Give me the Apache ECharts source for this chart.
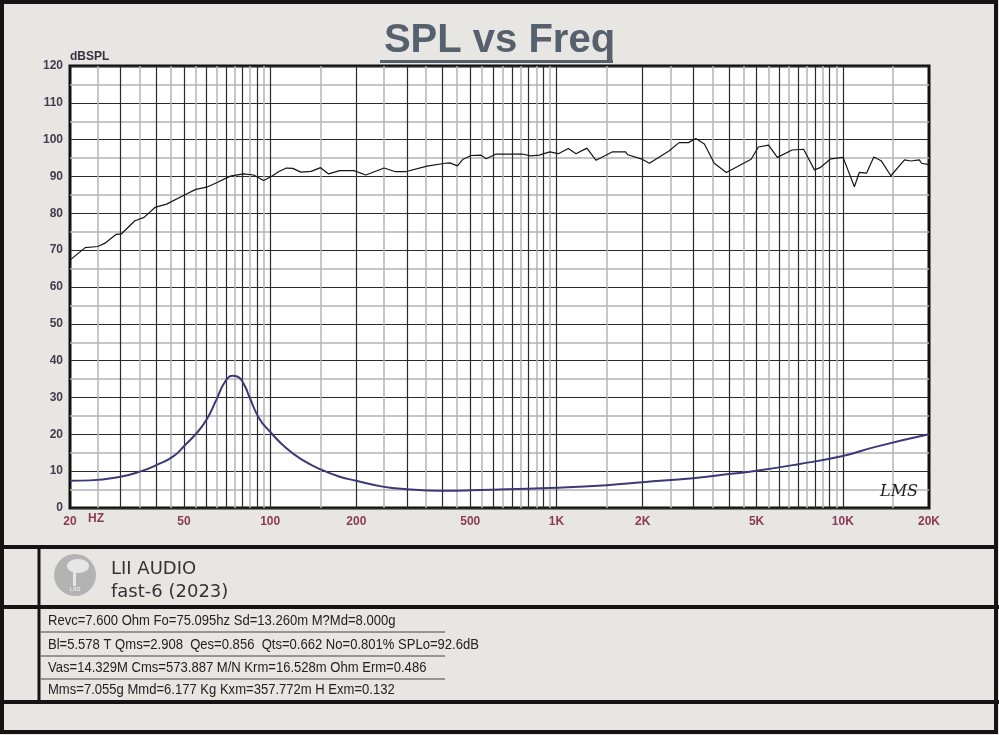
<!DOCTYPE html>
<html>
<head>
<meta charset="utf-8">
<script src="https://cdn.jsdelivr.net/npm/echarts@6/dist/echarts.min.js"></script>
<style>
html,body{margin:0;padding:0;background:#e8e6e3;}
#c{width:999px;height:735px;}
</style>
</head>
<body>
<div id="c"></div>
<script>
// ---- data ----
const splFreq = [20,22.6,25,26.5,29,30.2,33.7,36.3,39.6,43.5,50.2,55,60,65,72.6,80.6,87.6,94.9,101,107,114,120,128,139,150,160,175,196,216,250,274,297,353,409,424,451,472,503,545,568,615,760,812,870,948,1015,1100,1170,1277,1375,1570,1743,1776,1976,2112,2470,2680,2890,3066,3285,3557,3920,4785,5072,5504,5906,6651,7295,7960,8325,9085,10020,10975,11420,12100,12830,13610,14720,16420,17300,18500,18840,20000];
const splDb = [67.3,70.7,71.0,71.9,74.3,74.4,78.0,78.9,81.6,82.5,85.0,86.5,87.1,88.3,90.1,90.7,90.4,88.9,90.0,91.3,92.3,92.2,91.2,91.4,92.4,90.7,91.6,91.6,90.4,92.3,91.3,91.3,92.8,93.6,93.7,92.9,94.7,95.7,95.8,94.8,96.1,96.1,95.6,95.8,96.7,96.2,97.6,96.2,97.7,94.4,96.7,96.7,95.9,94.8,93.6,96.9,99.2,99.2,100.3,98.8,93.6,91.1,94.7,98.0,98.5,95.2,97.2,97.4,91.8,92.4,94.8,95.2,87.2,91.1,90.9,95.3,94.3,90.2,94.5,94.2,94.5,93.6,93.2];

const impFreq = [20,23.5,30,35.5,40.2,45.9,50.2,55.3,60,65,69.5,74.2,78,81.6,84.6,91.6,100,114,130,150,175,200,247,300,394,500,670,1000,1500,2000,3000,4000,5000,7000,10000,13000,20000];
const impOhm = [7.4,7.5,8.5,10.0,11.7,14.0,16.9,20.3,24.0,29.5,34.2,35.9,35.4,33.1,30.2,24.3,20.7,16.2,13.0,10.5,8.5,7.4,5.8,5.1,4.7,4.8,5.1,5.5,6.2,7.0,8.1,9.2,10.1,11.9,14.1,16.6,20.0];

const xTickValues = [20,50,100,200,500,1000,2000,5000,10000,20000];
const xTickLabels = ['20','50','100','200','500','1K','2K','5K','10K','20K'];
const majorGridFreqs = [30,40,50,60,70,80,90,100,200,300,400,500,600,700,800,900,1000,2000,3000,4000,5000,6000,7000,8000,9000,10000];
const minorGridFreqs = [25,35,45,55,65,75,85,95,150,250,350,450,550,650,750,850,950,1500,2500,3500,4500,5500,6500,7500,8500,9500,15000];

const titleText = 'SPL vs Freq';
const yAxisName = 'dBSPL';
const brandLines = ['LII AUDIO','fast-6 (2023)'];
const paramLines = [
  'Revc=7.600 Ohm Fo=75.095hz Sd=13.260m M?Md=8.000g',
  'Bl=5.578 T Qms=2.908  Qes=0.856  Qts=0.662 No=0.801% SPLo=92.6dB',
  'Vas=14.329M Cms=573.887 M/N Krm=16.528m Ohm Erm=0.486',
  'Mms=7.055g Mmd=6.177 Kg Kxm=357.772m H Exm=0.132'
];

// ---- build ----
const zip = (a,b) => a.map((v,i)=>[v,b[i]]);
const gridLines = [];
majorGridFreqs.forEach(f => gridLines.push({xAxis:f, lineStyle:{color:'#2a2a2a', width:1.2, type:'solid'}}));
minorGridFreqs.forEach(f => gridLines.push({xAxis:f, lineStyle:{color:'#b4b4b4', width:1.5, type:'solid'}}));

const FONT = '"Liberation Sans", Arial, sans-serif';
const chart = echarts.init(document.getElementById('c'), null, {renderer:'canvas'});

const graphics = [
  // outer frame
  {type:'rect', shape:{x:2,y:2,width:994,height:730}, style:{fill:'none', stroke:'#141414', lineWidth:4}, z:100},
  {type:'line', shape:{x1:0,y1:547,x2:994,y2:547}, style:{stroke:'#141414', lineWidth:4}, z:100},
  {type:'line', shape:{x1:0,y1:607,x2:999,y2:607}, style:{stroke:'#141414', lineWidth:4}, z:100},
  {type:'line', shape:{x1:0,y1:702,x2:999,y2:702}, style:{stroke:'#141414', lineWidth:4}, z:100},
  {type:'line', shape:{x1:39,y1:547,x2:39,y2:702}, style:{stroke:'#141414', lineWidth:3}, z:100},
  // title underline
  {type:'rect', shape:{x:380,y:60,width:233,height:3}, style:{fill:'#56616d'}, z:100},
  // axis name
  {type:'text', style:{x:70,y:57,text:yAxisName, font:'bold 12px '+FONT, fill:'#33333f', textVerticalAlign:'middle'}, z:100},
  {type:'text', style:{x:88,y:519,text:'HZ', font:'bold 12px '+FONT, fill:'#8b3a55', textVerticalAlign:'middle'}, z:100},
  // LMS
  {type:'text', style:{x:880,y:492,text:'LMS', font:'italic 16px "DejaVu Serif", serif', fill:'#222', textVerticalAlign:'middle'}, z:100},
  // logo
  {type:'circle', shape:{cx:75,cy:575,r:21}, style:{fill:'#b3b3b3'}, z:100},
  {type:'ellipse', shape:{cx:78,cy:566,rx:11,ry:7}, style:{fill:'#e6e6e6'}, z:101},
  {type:'rect', shape:{x:73,y:570,width:3,height:16}, style:{fill:'#e6e6e6'}, z:101},
  {type:'text', style:{x:75,y:589,text:'LIIS', font:'bold 6px '+FONT, fill:'#e6e6e6', textAlign:'center', textVerticalAlign:'middle'}, z:101},
  // brand text
  {type:'text', style:{x:111,y:569,text:brandLines[0], font:'18px "DejaVu Sans", sans-serif', fill:'#333', textVerticalAlign:'middle'}, z:100},
  {type:'text', style:{x:111,y:592,text:brandLines[1], font:'18px "DejaVu Sans", sans-serif', fill:'#333', textVerticalAlign:'middle'}, z:100}
];
const paramY = [621,645,668,690];
paramLines.forEach((t,i)=>{
  graphics.push({type:'text', x:48, y:paramY[i], scaleX:0.9, style:{x:0,y:0,text:t, font:'14.5px '+FONT, fill:'#222', textVerticalAlign:'middle'}, z:100});
  if (i<3) graphics.push({type:'line', shape:{x1:40,y1:paramY[i]+11,x2:445,y2:paramY[i]+11}, style:{stroke:'#7a7a7a', lineWidth:1.5}, z:100});
});

chart.setOption({
  animation:false,
  backgroundColor:'#e8e6e3',
  title:{text:titleText, left:'center', top:16, textStyle:{fontFamily:FONT, fontSize:40, fontWeight:'bold', color:'#56616d'}},
  grid:{left:70, right:70, top:66, bottom:227, show:true, backgroundColor:'#ffffff', borderColor:'#111', borderWidth:3, z:0},
  xAxis:{
    type:'log', logBase:10, min:20, max:20000,
    axisLine:{show:false}, axisTick:{show:false}, splitLine:{show:false}, minorSplitLine:{show:false},
    axisLabel:{customValues:xTickValues, margin:8, fontFamily:FONT, fontSize:12, fontWeight:'bold', color:'#8b3a55',
      formatter:(v)=>{ const i = xTickValues.findIndex(t=>Math.abs(t-v)/t<1e-6); return i>=0?xTickLabels[i]:''; }}
  },
  yAxis:{
    type:'value', min:0, max:120, interval:10,
    axisLine:{show:false}, axisTick:{show:false},
    axisLabel:{margin:7, fontFamily:FONT, fontSize:12, fontWeight:'bold', color:'#3e3e4c'},
    splitLine:{show:true, lineStyle:{color:'#2a2a2a', width:1.2}},
    minorTick:{show:false, splitNumber:2},
    minorSplitLine:{show:true, lineStyle:{color:'#b4b4b4', width:1.5}}
  },
  graphic:graphics,
  series:[
    {type:'line', data:[[20,0]], showSymbol:false, symbol:'none', lineStyle:{opacity:0}, silent:true, z:1,
      markLine:{silent:true, symbol:['none','none'], label:{show:false}, data:gridLines, animation:false}},
    {name:'SPL', type:'line', data:zip(splFreq,splDb), showSymbol:false, symbol:'none', z:5,
      lineStyle:{color:'#151515', width:1.2}},
    {name:'Impedance', type:'line', data:zip(impFreq,impOhm), showSymbol:false, symbol:'none', smooth:0.5, z:5,
      lineStyle:{color:'#3b3a78', width:2}}
  ]
});
</script>
</body>
</html>
